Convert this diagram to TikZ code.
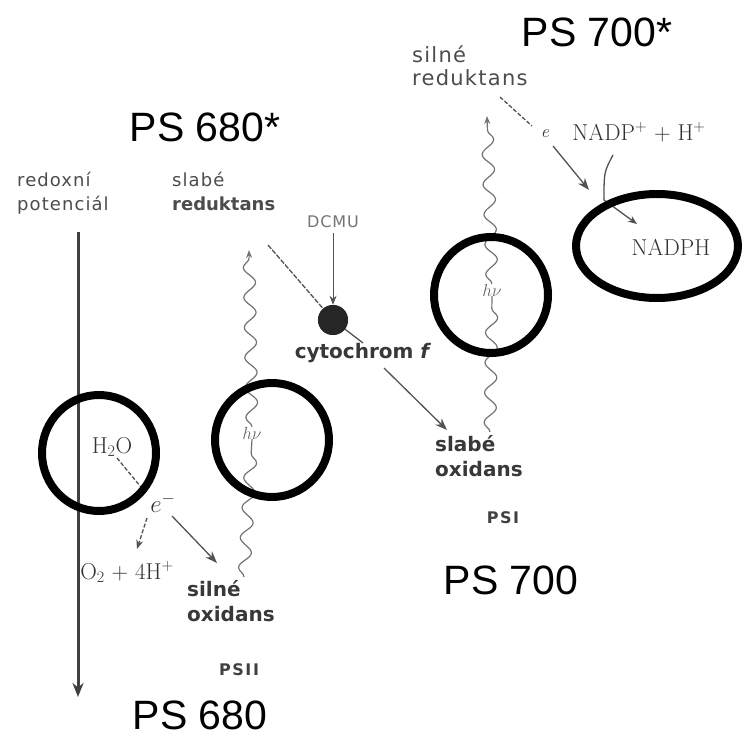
\documentclass[tikz,border=0pt]{standalone}
\usepackage{fontspec}
\newfontfamily\arialf{Liberation Sans}
\newfontfamily\dejaf{DejaVu Sans}
\newfontfamily\dejawide{DejaVu Sans}[LetterSpace=6]
\newfontfamily\dejaboldwide{DejaVu Sans Bold}[LetterSpace=10]
\usetikzlibrary{decorations.pathmorphing,arrows.meta}
\begin{document}
\begin{tikzpicture}[x=1pt,y=-1pt,
  big/.style={font=\arialf\fontsize{41}{49}\selectfont, text=black, inner sep=0pt},
  lbl/.style={font=\dejawide\fontsize{18}{24}\selectfont, text=black!70, inner sep=0pt, align=left},
  lblb/.style={font=\dejaf\bfseries\fontsize{20}{25}\selectfont, text=black!78, inner sep=0pt, align=left},
  pslbl/.style={font=\dejaboldwide\fontsize{16}{18}\selectfont, text=black!75, inner sep=0pt},
  ser/.style={font=\fontsize{23}{26}\selectfont, text=black!80, inner sep=0pt},
  ring/.style={draw=black, line width=8pt},
  thinl/.style={draw=black!68, line width=1.3pt},
  arr/.style={thinl, -{Stealth[length=12pt,width=9pt]}},
  dash2/.style={thinl, dash pattern=on 4pt off 2pt},
  wave/.style={draw=black!55, line width=1.2pt, decorate, decoration={snake, amplitude=6pt, segment length=30pt}},
  waveup/.style={wave, -{Stealth[length=8pt,width=6pt]}, decoration={snake, amplitude=6pt, segment length=30pt, post length=8pt}},
]
\useasboundingbox (0,0) rectangle (742,741);

% big labels
\node[big] (ps680s) at (205,127) {PS 680*};
\node[big] (ps700s) at (597,32) {PS 700*};
\node[big] (ps700) at (511,580) {PS 700};
\node[big] (ps680) at (200,715) {PS 680};

% redox axis
\node[lbl, anchor=north west] (redox) at (17,172) {redoxní\\potenciál};
\coordinate (axtop) at (78,232);
\coordinate (axbot) at (78,697);
\draw[draw=black!75, line width=3pt, -{Stealth[length=14pt,width=11pt]}] (axtop) -- (axbot);

% PSII side
\node[ser] (h2o) at (112,447) {H\textsubscript{2}O};
\node[ser] (e1) at (163,503) {$e^{-}$};
\node[ser] (o2) at (127,572) {O\textsubscript{2} + 4H\textsuperscript{+}};
\node[lblb, anchor=north west] (soxi) at (187,580) {silné\\oxidans};
\node[pslbl] (psii) at (239,670) {PSII};
\coordinate (h2oA) at (117,458);
\coordinate (e1A) at (145,492);
\coordinate (e1B) at (147,518);
\coordinate (o2t) at (137,549);
\coordinate (e1C) at (172,516);
\coordinate (soxt) at (217,563);
\draw[dash2] (h2oA) -- (e1A);
\draw[dash2, -{Stealth[length=9pt,width=7pt]}] (e1B) -- (o2t);
\draw[arr] (e1C) -- (soxt);

% PSII photon
\node[ser, font=\fontsize{18}{20}\selectfont, text=black!60] (hv2) at (252,433) {$h\nu$};
\coordinate (w2bot) at (244,577);
\coordinate (w2top) at (249,250);
\draw[wave] (w2bot) -- (hv2.south);
\draw[waveup] (hv2.north) -- (w2top);

% weak reductant -> cytochrome
\node[lbl, anchor=north west] (sred) at (172,172) {slabé\\{\dejaf\bfseries reduktans}};
\node[lbl, font=\dejawide\fontsize{16}{18}\selectfont, text=black!55] (dcmu) at (333,222) {DCMU};
\coordinate (redA) at (268,245);
\coordinate (cytE) at (363,343);
\node[circle, fill=black!85, minimum size=30pt, inner sep=0pt] (cyt) at (333,320) {};
\draw[thinl, dash pattern=on 5pt off 1.5pt] (redA) -- (cyt.center);
\draw[thinl] (cyt.center) -- (cytE);
\node[circle, fill=black!85, minimum size=30pt, inner sep=0pt] at (cyt) {};
\coordinate (dcA) at (333,233);
\draw[thinl, line width=1pt, -{Stealth[length=9pt,width=7pt]}] (dcA) -- (cyt.north);
\node[lblb] (cytl) at (363,353) {cytochrom \textit{f}};
\coordinate (cytA) at (384,368);
\coordinate (woxt) at (447,430);
\draw[arr] (cytA) -- (woxt);
\node[lblb, anchor=north west] (wox) at (435,435) {slabé\\oxidans};
\node[pslbl] (psi) at (503,518) {PSI};

% PSI photon
\node[ser, font=\fontsize{18}{20}\selectfont, text=black!60] (hv1) at (492,290) {$h\nu$};
\coordinate (w1bot) at (490,432);
\coordinate (w1top) at (487,116);
\draw[wave] (w1bot) -- (hv1.south);
\draw[waveup] (hv1.north) -- (w1top);

% strong reductant -> NADPH
\node[lbl, anchor=north west, font=\dejawide\fontsize{21}{23}\selectfont] (sred2) at (412,46) {silné\\reduktans};
\node[ser, font=\itshape\fontsize{18}{20}\selectfont] (e2) at (545,134) {e};
\coordinate (r2A) at (500,97);
\coordinate (r2B) at (532,126);
\coordinate (r2C) at (553,146);
\coordinate (r2t) at (589,190);
\draw[dash2] (r2A) -- (r2B);
\draw[arr] (r2C) -- (r2t);
\node[ser] (nadp) at (639,132) {NADP\textsuperscript{+} + H\textsuperscript{+}};
\node[ser] (nadph) at (671,247) {NADPH};
\coordinate (nA) at (613,155);
\coordinate (nB) at (604,200);
\coordinate (nC) at (637,224);
\draw[thinl, -{Stealth[length=9pt,width=7pt]}] (nA) .. controls (604,172) .. (nB) -- (nC);

% rings
\draw[ring] (99,453) ellipse [x radius=57, y radius=58];
\draw[ring] (272,440) ellipse [x radius=57, y radius=57];
\draw[ring] (491,295) ellipse [x radius=57, y radius=58];
\draw[ring] (657,246) ellipse [x radius=81, y radius=52];
\end{tikzpicture}
\end{document}
